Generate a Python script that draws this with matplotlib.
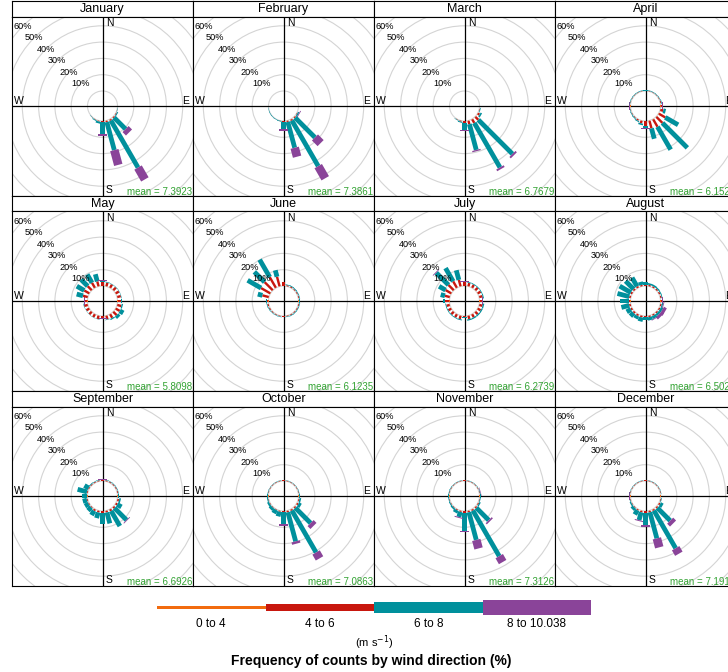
import matplotlib
matplotlib.use('Agg')
import matplotlib.pyplot as plt
from matplotlib.patches import Polygon, Circle, Rectangle
import numpy as np

plt.rcParams['font.family'] = ['Liberation Sans', 'DejaVu Sans']

# ---------------- data ----------------
directions = [15, 30, 45, 60, 75, 90, 105, 120, 135, 150, 165, 180,
              195, 210, 225, 240, 255, 270, 285, 300, 315, 330, 345, 360]
months = ['January', 'February', 'March', 'April', 'May', 'June',
          'July', 'August', 'September', 'October', 'November', 'December']
means = ['7.3923', '7.3861', '6.7679', '6.1526', '5.8098', '6.1235',
         '6.2739', '6.5021', '6.6926', '7.0863', '7.3126', '7.1913']
speed_labels = ['0 to 4', '4 to 6', '6 to 8', '8 to 10.038']
speed_colors = ['#F26B0F', '#C8170E', '#00909C', '#8A4499']
grid_pcts = [10, 20, 30, 40, 50, 60, 70]

#            15   30   45   60   75   90  105  120  135  150  165  180  195  210  225  240  255  270  285  300  315  330  345  360
jan_o = [0, 0, 0, 0, 0, 0, 0, 0.1, 0.2, 0.3, 0.3, 0.2, 0.2, 0.1, 0, 0, 0, 0, 0, 0, 0, 0, 0, 0]
jan_r = [0, 0, 0, 0, 0, 0, 0.1, 0.4, 0.6, 0.8, 0.7, 0.4, 0.3, 0.2, 0.1, 0, 0, 0, 0, 0, 0, 0, 0, 0]
jan_t = [0, 0, 0, 0, 0, 0, 0.2, 0.6, 10.0, 33.3, 17.8, 7.1, 1.2, 0.5, 0.2, 0, 0, 0, 0, 0, 0, 0, 0, 0]
jan_p = [0, 0, 0, 0, 0, 0, 0, 0, 3.0, 8.4, 9.4, 1.5, 0, 0, 0, 0, 0, 0, 0, 0, 0, 0, 0, 0]

feb_o = [0, 0, 0, 0, 0, 0, 0, 0.1, 0.3, 0.3, 0.3, 0.2, 0, 0, 0, 0, 0, 0, 0, 0, 0, 0, 0, 0]
feb_r = [0, 0, 0, 0, 0, 0, 0, 0.3, 0.6, 0.8, 0.6, 0.4, 0.1, 0, 0, 0, 0, 0, 0, 0, 0, 0, 0, 0]
feb_t = [0, 0, 0, 0, 0, 0, 0, 0.8, 17.2, 32.3, 16.4, 4.5, 0.4, 0.3, 0.3, 0.3, 0.2, 0, 0, 0, 0, 0, 0, 0]
feb_p = [0, 0, 0, 0, 0, 0, 0, 0.5, 4.9, 8.6, 5.7, 1.0, 0, 0, 0, 0, 0, 0, 0, 0, 0, 0, 0, 0]

mar_o = [0, 0, 0, 0, 0, 0, 0.1, 0.2, 0.3, 0.3, 0.3, 0.3, 0.1, 0.1, 0, 0, 0, 0, 0, 0, 0, 0, 0, 0]
mar_r = [0, 0, 0, 0, 0, 0, 0.3, 1.2, 2.5, 2.5, 2.0, 1.0, 0.5, 0.2, 0, 0, 0, 0, 0, 0, 0, 0, 0, 0]
mar_t = [0, 0, 0, 0, 0, 0, 0.4, 1.0, 29.6, 31.5, 16.4, 4.2, 0.6, 0.3, 0, 0, 0, 0, 0, 0, 0, 0, 0, 0]
mar_p = [0, 0, 0, 0, 0, 0, 0, 0, 1.2, 1.2, 0.8, 0.8, 0, 0, 0, 0, 0, 0, 0, 0, 0, 0, 0, 0]

apr_o = [0.1, 0.1, 0.1, 0.1, 0.1, 0.1, 0.2, 0.3, 0.3, 0.3, 0.3, 0.3, 0.2, 0.1, 0.1, 0.1, 0.1, 0.1, 0.1, 0.1, 0.1, 0.1, 0.1, 0.1]
apr_r = [0.2, 0.2, 0.2, 0.3, 0.5, 0.8, 1.8, 4.5, 5.2, 5.2, 4.7, 2.5, 1.5, 0.8, 0.4, 0.3, 0.2, 0.2, 0.2, 0.2, 0.2, 0.2, 0.2, 0.2]
apr_t = [0.3, 0.3, 0.3, 0.3, 0.4, 0.3, 1.5, 9.1, 21.6, 16.2, 6.6, 1.8, 1.0, 0.6, 0.5, 0.4, 0.3, 0.3, 0.3, 0.3, 0.3, 0.3, 0.3, 0.3]
apr_p = [0, 0, 0, 0, 0, 0.2, 0, 0, 0, 0, 0, 0.5, 0, 0, 0, 0, 0, 0.2, 0, 0, 0, 0, 0, 0.2]

may_o = [0.2, 0.2, 0.2, 0.2, 0.2, 0.2, 0.2, 0.2, 0.2, 0.2, 0.2, 0.2, 0.2, 0.2, 0.2, 0.2, 0.2, 0.2, 0.2, 0.2, 0.2, 0.2, 0.2, 0.2]
may_r = [2.2, 2.2, 2.2, 2.2, 2.2, 2.2, 2.5, 2.8, 2.8, 2.5, 2.2, 1.2, 2.0, 2.0, 2.0, 2.0, 2.2, 1.6, 3.0, 3.5, 3.5, 3.5, 3.0, 2.0]
may_t = [0.4, 0.3, 0.3, 0.3, 0.3, 0.2, 0.8, 2.5, 1.9, 0.8, 0.3, 0, 0.2, 0.2, 0.2, 0.2, 0.3, 0, 4.0, 5.3, 5.7, 5.9, 4.6, 1.0]
may_p = [0, 0, 0, 0, 0, 0.3, 0, 0, 0, 0, 0, 0.2, 0, 0, 0, 0, 0, 0.3, 0, 0, 0, 0, 0, 0.3]

jun_o = [0.1, 0.1, 0.1, 0.1, 0.1, 0.1, 0.1, 0.1, 0.1, 0.1, 0.1, 0.1, 0.1, 0.1, 0.1, 0.1, 0.1, 0.1, 0.2, 0.2, 0.2, 0.2, 0.2, 0.2]
jun_r = [0.6, 0.6, 0.5, 0.5, 0.5, 0.4, 0.5, 0.5, 0.5, 0.5, 0.4, 0.3, 0.4, 0.4, 0.5, 0.6, 0.8, 0.8, 4.0, 6.5, 7.0, 7.5, 6.0, 2.0]
jun_t = [0.4, 0.5, 0.5, 0.4, 0.4, 0.3, 0.4, 0.4, 0.4, 0.4, 0.3, 0.1, 0.3, 0.3, 0.3, 0.4, 0.4, 0.4, 2.9, 9.5, 8.9, 12.4, 4.1, 0.2]
jun_p = [0, 0, 0, 0, 0, 0.2, 0, 0, 0, 0, 0, 0.2, 0, 0, 0, 0, 0, 0.3, 0, 0, 0, 0, 0, 0.3]

jul_o = [0.2, 0.2, 0.2, 0.2, 0.2, 0.2, 0.2, 0.2, 0.2, 0.2, 0.2, 0.2, 0.2, 0.2, 0.2, 0.2, 0.2, 0.2, 0.2, 0.2, 0.2, 0.2, 0.2, 0.2]
jul_r = [2.0, 2.0, 2.0, 2.0, 2.0, 1.5, 2.0, 2.0, 2.0, 2.0, 2.0, 0.6, 2.0, 2.0, 2.0, 2.0, 2.0, 2.5, 3.0, 4.0, 4.5, 4.5, 4.0, 2.0]
jul_t = [0.5, 0.5, 0.5, 0.5, 0.6, 0.1, 0.8, 0.8, 0.8, 0.8, 0.8, 0.2, 0.6, 0.5, 0.5, 0.5, 0.5, 1.2, 2.7, 4.6, 10.6, 9.4, 6.1, 0.5]
jul_p = [0, 0, 0, 0, 0, 0.2, 0, 0, 0, 0, 0, 0.1, 0, 0, 0, 0, 0, 0.3, 0, 0, 0.5, 0, 0, 0.3]

aug_o = [0.1, 0.1, 0.1, 0.1, 0.1, 0.1, 0.1, 0.1, 0.1, 0.1, 0.1, 0.1, 0.1, 0.1, 0.1, 0.1, 0.1, 0.1, 0.1, 0.1, 0.1, 0.1, 0.1, 0.1]
aug_r = [0.8, 0.8, 0.8, 0.8, 0.8, 0.8, 0.8, 0.8, 0.8, 0.8, 0.8, 0.8, 1.0, 1.0, 1.0, 1.0, 1.0, 1.0, 1.0, 1.0, 1.0, 1.0, 0.8, 0.7]
aug_t = [1.0, 1.0, 0.8, 0.6, 0.5, 0.3, 0.8, 1.5, 1.5, 1.8, 2.0, 1.5, 2.6, 2.0, 2.8, 3.0, 5.0, 5.3, 7.5, 8.0, 7.0, 6.2, 2.0, 1.6]
aug_p = [0, 0, 0, 0, 0, 0.2, 0.5, 2.0, 1.8, 0.5, 0, 0.3, 0, 0, 0, 0, 0, 0.3, 0, 0, 0, 0, 0, 0.3]

sep_o = [0.1, 0.1, 0.1, 0.1, 0.1, 0.1, 0.2, 0.2, 0.2, 0.2, 0.2, 0.2, 0.2, 0.2, 0.1, 0.1, 0.1, 0.1, 0.1, 0.1, 0.1, 0.1, 0.1, 0.1]
sep_r = [0.5, 0.5, 0.5, 0.5, 0.5, 0.5, 1.0, 1.0, 1.0, 1.2, 1.0, 1.0, 1.0, 1.0, 0.5, 0.5, 0.5, 0.5, 0.5, 0.5, 0.5, 0.5, 0.5, 0.5]
sep_t = [0.3, 0.3, 0.3, 0.3, 0.3, 0.4, 1.0, 3.0, 10.4, 10.7, 7.0, 6.5, 3.6, 3.1, 2.8, 2.6, 2.7, 2.7, 6.0, 3.0, 0.5, 0.3, 0.3, 0.3]
sep_p = [0, 0, 0, 0, 0, 0.2, 0, 0, 0.5, 0, 0, 0.5, 0, 0, 0, 0, 0, 0.3, 0, 0, 0, 0, 0, 0.3]

oct_o = [0.1, 0.1, 0.1, 0.1, 0.1, 0.1, 0.2, 0.3, 0.3, 0.3, 0.3, 0.3, 0.2, 0.1, 0.1, 0.1, 0.1, 0.1, 0.1, 0.1, 0.1, 0.1, 0.1, 0.1]
oct_r = [0.3, 0.3, 0.3, 0.3, 0.3, 0.3, 0.5, 0.8, 0.8, 0.8, 0.8, 0.6, 0.5, 0.3, 0.3, 0.3, 0.3, 0.3, 0.3, 0.3, 0.3, 0.3, 0.3, 0.3]
oct_t = [0.2, 0.2, 0.2, 0.2, 0.3, 0.4, 1.0, 1.8, 13.2, 29.7, 18.5, 7.3, 3.0, 2.5, 1.8, 1.2, 0.6, 0.4, 0.3, 0.2, 0.2, 0.2, 0.2, 0.2]
oct_p = [0, 0, 0, 0, 0, 0.3, 0, 0, 2.5, 4.2, 1.5, 1.0, 0, 0, 0, 0, 0, 0, 0, 0, 0, 0, 0, 0]

nov_o = [0.1, 0.1, 0.1, 0.1, 0.1, 0.1, 0.1, 0.2, 0.3, 0.3, 0.3, 0.3, 0.2, 0.1, 0.1, 0.1, 0.1, 0.1, 0.1, 0.1, 0.1, 0.1, 0.1, 0.1]
nov_r = [0.3, 0.3, 0.3, 0.3, 0.3, 0.3, 0.3, 0.5, 0.8, 0.8, 0.8, 0.8, 0.6, 0.5, 0.3, 0.3, 0.3, 0.3, 0.3, 0.3, 0.3, 0.3, 0.3, 0.3]
nov_t = [0.2, 0.2, 0.2, 0.2, 0.3, 0.3, 0.4, 0.8, 10.7, 32.3, 17.6, 11.0, 3.3, 1.8, 1.0, 0.6, 0.4, 0.3, 0.3, 0.3, 0.2, 0.2, 0.2, 0.2]
nov_p = [0, 0, 0, 0, 0.3, 0.3, 0, 0, 1.0, 4.2, 5.4, 0.8, 0.6, 0, 0, 0, 0, 0, 0, 0, 0, 0, 0, 0]

dec_o = [0.1, 0.1, 0.1, 0.1, 0.1, 0.1, 0.1, 0.2, 0.3, 0.3, 0.3, 0.3, 0.3, 0.2, 0.1, 0.1, 0.1, 0.1, 0.1, 0.1, 0.1, 0.1, 0.1, 0.1]
dec_r = [0.3, 0.3, 0.3, 0.3, 0.3, 0.3, 0.4, 0.8, 0.8, 0.8, 0.8, 0.8, 0.8, 0.6, 0.4, 0.3, 0.3, 0.3, 0.3, 0.3, 0.3, 0.3, 0.3, 0.3]
dec_t = [0.2, 0.2, 0.2, 0.2, 0.2, 0.2, 0.4, 1.8, 11.1, 26.7, 16.6, 7.5, 5.0, 3.1, 1.8, 0.8, 0.4, 0.2, 0.2, 0.2, 0.2, 0.2, 0.2, 0.2]
dec_p = [0, 0, 0, 0, 0, 0, 0, 0, 2.5, 3.9, 5.7, 1.0, 0.6, 0, 0, 0, 0, 0.3, 0, 0, 0, 0, 0, 0]

month_bins = [
    (jan_o, jan_r, jan_t, jan_p), (feb_o, feb_r, feb_t, feb_p),
    (mar_o, mar_r, mar_t, mar_p), (apr_o, apr_r, apr_t, apr_p),
    (may_o, may_r, may_t, may_p), (jun_o, jun_r, jun_t, jun_p),
    (jul_o, jul_r, jul_t, jul_p), (aug_o, aug_r, aug_t, aug_p),
    (sep_o, sep_r, sep_t, sep_p), (oct_o, oct_r, oct_t, oct_p),
    (nov_o, nov_r, nov_t, nov_p), (dec_o, dec_r, dec_t, dec_p),
]

# ---------------- layout ----------------
W, H = 728, 672
fig = plt.figure(figsize=(W / 100, H / 100), dpi=100)

PXU = 1.63        # pixels per percent unit
OFF = 9.2         # hollow centre (percent units)
PADDLE_PX = [1.2, 2.4, 4.8, 8.6]   # full paddle widths in pixels per class
LEFT0, COLW = 12.0, 181.0
TOP0, ROWH, STRIPH, PANH = 1.0, 195.0, 15.5, 179.0


def fx(px):
    return px / W


def fy(py_top, h):
    return 1 - (py_top + h) / H


def paddle(ax, wd, r1, r2, hw, col):
    th = np.deg2rad(wd)
    s, c = np.sin(th), np.cos(th)
    a, b = r1 + OFF, r2 + OFF
    pts = [(a * s - hw * c, a * c + hw * s), (a * s + hw * c, a * c - hw * s),
           (b * s + hw * c, b * c - hw * s), (b * s - hw * c, b * c + hw * s)]
    ax.add_patch(Polygon(pts, closed=True, facecolor=col, edgecolor='none',
                         lw=0, zorder=3))


for i, name in enumerate(months):
    row, col = divmod(i, 4)
    left = LEFT0 + col * COLW
    top = TOP0 + row * ROWH
    # strip
    sax = fig.add_axes([fx(left), fy(top, STRIPH), COLW / W, STRIPH / H])
    sax.set_xticks([]); sax.set_yticks([])
    sax.set_facecolor('white')
    for sp in sax.spines.values():
        sp.set_linewidth(0.8)
    sax.text(0.5, 0.5, name, ha='center', va='center', fontsize=9,
             transform=sax.transAxes)
    # panel
    ax = fig.add_axes([fx(left), fy(top + STRIPH, PANH), COLW / W, PANH / H])
    ax.set_xticks([]); ax.set_yticks([])
    for sp in ax.spines.values():
        sp.set_linewidth(0.8)
    hx = COLW / 2 / PXU
    hy = PANH / 2 / PXU
    ax.set_xlim(-hx, hx)
    ax.set_ylim(-hy, hy)
    ax.add_patch(Circle((0, 0), OFF, fill=False, ec='#d4d4d4', lw=0.8, zorder=1))
    for g in grid_pcts:
        ax.add_patch(Circle((0, 0), OFF + g, fill=False, ec='#d4d4d4', lw=0.8, zorder=1))
    ax.axhline(0, color='black', lw=0.9, zorder=2)
    ax.axvline(0, color='black', lw=0.9, zorder=2)
    for g in grid_pcts:
        r = OFF + g
        ax.text(-r * np.sin(np.pi / 4), r * np.cos(np.pi / 4), f'{g}%',
                ha='center', va='center', fontsize=6.6, zorder=5, clip_on=True)
    ax.text(2.0, 51.0, 'N', ha='left', va='center', fontsize=7.5, zorder=5)
    ax.text(2.0, -51.3, 'S', ha='left', va='center', fontsize=7.5, zorder=5)
    ax.text(-54.5, 3.0, 'W', ha='left', va='center', fontsize=7.5, zorder=5)
    ax.text(52.8, 3.0, 'E', ha='right', va='center', fontsize=7.5, zorder=5)
    ax.text(hx - 0.3, -hy + 2.4, f'mean = {means[i]}', ha='right', va='center',
            fontsize=7, color='#33A333', zorder=5)
    bins = month_bins[i]
    for k, wd in enumerate(directions):
        cum = 0.0
        for j in range(4):
            v = bins[j][k]
            if v > 0:
                paddle(ax, wd, cum, cum + v, PADDLE_PX[j] / 2 / PXU, speed_colors[j])
            cum += v

# ---------------- legend ----------------
lax = fig.add_axes([0, 0, 1, 1])
lax.set_xlim(0, W)
lax.set_ylim(H, 0)
lax.axis('off')
seg_x0, seg_w, seg_y = 157.0, 108.5, 607.5
for j, (lab, colr) in enumerate(zip(speed_labels, speed_colors)):
    h = 3.9 * (j + 1)
    lax.add_patch(Rectangle((seg_x0 + j * seg_w, seg_y - h / 2), seg_w, h,
                            facecolor=colr, edgecolor='none'))
    lax.text(seg_x0 + (j + 0.5) * seg_w, 624, lab, ha='center', va='center',
             fontsize=8.5)
lax.text(374, 643, '(m s$^{-1}$)', ha='center', va='center', fontsize=8)
lax.text(371, 661, 'Frequency of counts by wind direction (%)', ha='center',
         va='center', fontsize=10, fontweight='bold')

fig.savefig('out.png', dpi=100)
